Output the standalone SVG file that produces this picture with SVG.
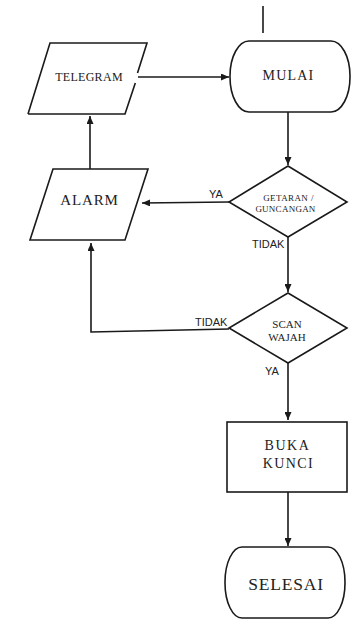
<svg xmlns="http://www.w3.org/2000/svg" width="363" height="619" viewBox="0 0 363 619">
  <style>
    .shape { fill: #ffffff; stroke: #1a1a1a; stroke-width: 1.6; }
    .fillonly { fill: #ffffff; stroke: none; }
    .edge { fill: none; stroke: #1a1a1a; stroke-width: 1.6; }
    .serif { font-family: "Liberation Serif", "Times New Roman", serif; fill: #222; text-anchor: middle; }
    .lbl { font-family: "Liberation Sans", Arial, sans-serif; fill: #222; font-size: 11px; }
  </style>
  <defs>
    <marker id="arrow" markerWidth="8" markerHeight="7" refX="8" refY="3.5" orient="auto" markerUnits="userSpaceOnUse">
      <path d="M0,0 L8,3.5 L0,7 z" fill="#1a1a1a"/>
    </marker>
  </defs>
  <rect width="363" height="619" fill="#ffffff"/>

  <!-- connectors -->
  <g id="connectors">
    <line class="edge" x1="263" y1="6" x2="263" y2="33"/>
    <line class="edge" x1="138" y1="77" x2="229" y2="77" marker-end="url(#arrow)"/>
    <line class="edge" x1="288" y1="112" x2="288" y2="165" marker-end="url(#arrow)"/>
    <line class="edge" x1="90" y1="169" x2="90" y2="116" marker-end="url(#arrow)"/>
    <line class="edge" x1="229" y1="202" x2="142" y2="203" marker-end="url(#arrow)"/>
    <line class="edge" x1="288" y1="237" x2="288" y2="292" marker-end="url(#arrow)"/>
    <polyline class="edge" points="229,329 91,332 91,243" marker-end="url(#arrow)"/>
    <line class="edge" x1="288" y1="363" x2="288" y2="420" marker-end="url(#arrow)"/>
    <line class="edge" x1="288" y1="492" x2="288" y2="546" marker-end="url(#arrow)"/>
    <text class="lbl" x="209" y="198">YA</text>
    <text class="lbl" x="252" y="248">TIDAK</text>
    <text class="lbl" x="195" y="326">TIDAK</text>
    <text class="lbl" x="265" y="375">YA</text>
  </g>

  <!-- start terminal -->
  <g id="mulai">
    <rect class="shape" x="230" y="41" width="120" height="71" rx="19" ry="35"/>
    <text class="serif" x="288.5" y="80" font-size="14" letter-spacing="1.2">MULAI</text>
  </g>

  <!-- telegram output (right edge broken where the connector leaves) -->
  <g id="telegram">
    <polygon class="fillonly" points="50,43 147,43 125,114 28,114"/>
    <path class="edge" d="M28,114 L50,43 L147,43 L137.5,73 M135.3,83 L125,114 L28,114"/>
    <text class="serif" x="89" y="81" font-size="12" letter-spacing="0.3">TELEGRAM</text>
  </g>

  <!-- alarm output -->
  <g id="alarm">
    <polygon class="shape" points="53,169 148,169 125,240 30,240"/>
    <text class="serif" x="89.5" y="204.5" font-size="15" letter-spacing="0.9">ALARM</text>
  </g>

  <!-- vibration decision -->
  <g id="getaran">
    <polygon class="shape" points="288,166 347,202 288,237 229,202"/>
    <text class="serif" x="288.5" y="201" font-size="9" letter-spacing="0.4">GETARAN /</text>
    <text class="serif" x="285.5" y="212.3" font-size="9" letter-spacing="0.25">GUNCANGAN</text>
  </g>

  <!-- face scan decision -->
  <g id="scan-wajah">
    <polygon class="shape" points="288,293 347,328 288,363 229,328"/>
    <text class="serif" x="287" y="328" font-size="11">SCAN</text>
    <text class="serif" x="287" y="340.5" font-size="11">WAJAH</text>
  </g>

  <!-- unlock process -->
  <g id="buka-kunci">
    <rect class="shape" x="227" y="422" width="120" height="70"/>
    <text class="serif" x="287.5" y="449.5" font-size="14" letter-spacing="1.6">BUKA</text>
    <text class="serif" x="288.5" y="468" font-size="14" letter-spacing="1.4">KUNCI</text>
  </g>

  <!-- end terminal -->
  <g id="selesai">
    <rect class="shape" x="225" y="547" width="120" height="71" rx="17" ry="35"/>
    <text class="serif" x="286" y="590" font-size="17.5" letter-spacing="0.8">SELESAI</text>
  </g>
</svg>
